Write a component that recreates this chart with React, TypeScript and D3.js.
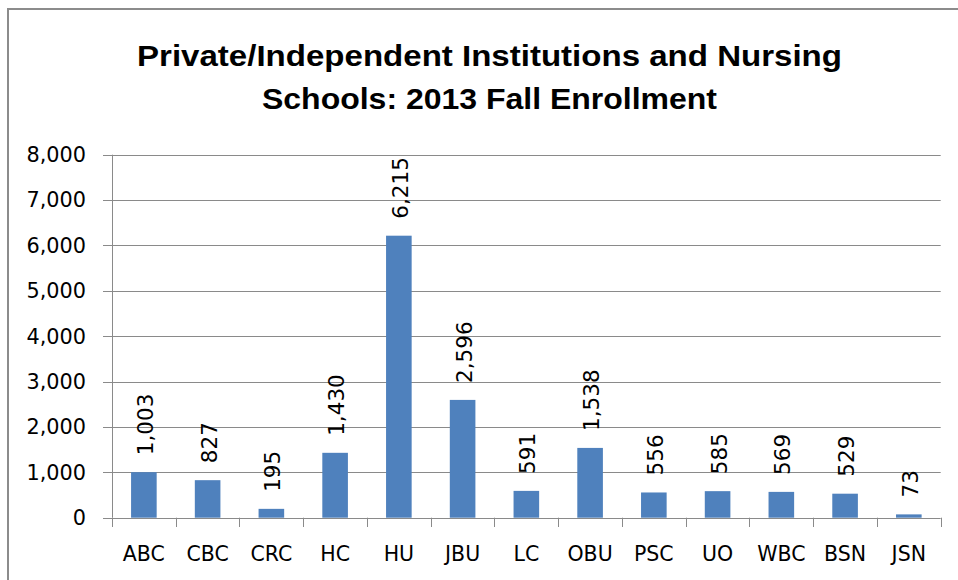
import React from "react";
import * as d3 from "d3";

const categories = ["ABC", "CBC", "CRC", "HC", "HU", "JBU", "LC", "OBU", "PSC", "UO", "WBC", "BSN", "JSN"];
const enrollment = [1003, 827, 195, 1430, 6215, 2596, 591, 1538, 556, 585, 569, 529, 73];
const yTicks = [0, 1000, 2000, 3000, 4000, 5000, 6000, 7000, 8000];
const titleLines = ["Private/Independent Institutions and Nursing", "Schools: 2013 Fall Enrollment"];

export default function App() {
  const W = 958, H = 580;
  const left = 112, right = 940.7, top = 154.7, bottom = 517.7;
  const xb = d3.scaleBand<string>().domain(categories).range([left, right]);
  const y = d3.scaleLinear().domain([0, 8000]).range([bottom, top]);
  const fmt = d3.format(",");
  const grid = "#8a8a8a";
  const font = "'DejaVu Sans', sans-serif";
  return (
    <svg width={W} height={H} style={{ position: "absolute", left: 0, top: 0, background: "#fff" }}>
      <rect x={8} y={9} width={W + 20} height={H + 20} fill="#fff" stroke="#8c8c8c" strokeWidth={2} />
      <g fontFamily="'Liberation Sans', Arial, sans-serif" fontWeight="bold" fontSize={30} textAnchor="middle" fill="#000">
        <text x={489.5} y={66} textLength={705} lengthAdjust="spacingAndGlyphs">{titleLines[0]}</text>
        <text x={489.5} y={109} textLength={455} lengthAdjust="spacingAndGlyphs">{titleLines[1]}</text>
      </g>
      {yTicks.map((t) => (
        <g key={t}>
          <line x1={103} x2={right} y1={Math.round(y(t)) + 0.5} y2={Math.round(y(t)) + 0.5} stroke={grid} strokeWidth={1} />
          <text x={86} y={y(t) + 7.4} textAnchor="end" fontFamily={font} fontSize={20.8} fill="#000">{fmt(t)}</text>
        </g>
      ))}
      <line x1={left + 0.5} x2={left + 0.5} y1={top} y2={bottom} stroke={grid} strokeWidth={1} />
      {categories.map((c) => (
        <line key={"t" + c} x1={Math.round(xb(c)! + xb.bandwidth()) + 0.5} x2={Math.round(xb(c)! + xb.bandwidth()) + 0.5} y1={bottom} y2={527} stroke={grid} strokeWidth={1} />
      ))}
      <line x1={left + 0.5} x2={left + 0.5} y1={bottom} y2={527} stroke={grid} strokeWidth={1} />
      {categories.map((c, i) => {
        const cx = xb(c)! + xb.bandwidth() / 2;
        const bw = 25.6;
        return (
          <g key={c}>
            <rect x={cx - bw / 2} y={y(enrollment[i])} width={bw} height={bottom - y(enrollment[i])} fill="#4f81bd" />
            <text transform={`translate(${cx + 9},${y(enrollment[i]) - 17}) rotate(-90)`} fontFamily={font} fontSize={21.5} fill="#000">{fmt(enrollment[i])}</text>
            <text x={cx} y={561} textAnchor="middle" fontFamily={font} fontSize={20.5} fill="#000">{c}</text>
          </g>
        );
      })}
    </svg>
  );
}
